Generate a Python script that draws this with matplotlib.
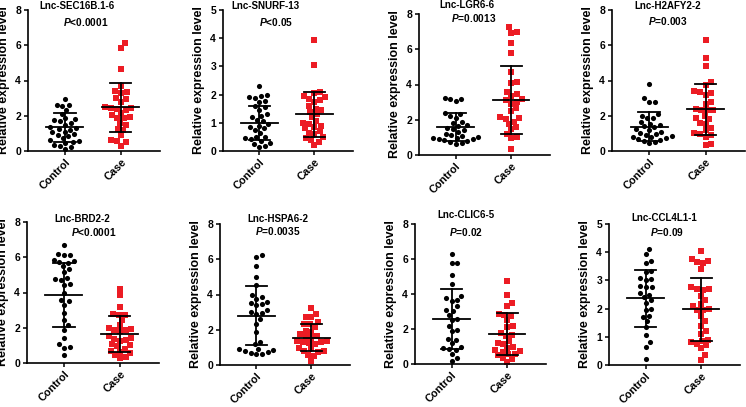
import numpy as np
import matplotlib.pyplot as plt

plt.rcParams['font.family'] = 'Liberation Sans'
plt.rcParams['font.weight'] = 'bold'
plt.rcParams['mathtext.fontset'] = 'custom'
plt.rcParams['mathtext.it'] = 'Liberation Sans:italic:bold'
plt.rcParams['mathtext.rm'] = 'Liberation Sans:bold'

# ---------------- data ----------------
genes = ["Lnc-SEC16B.1-6", "Lnc-SNURF-13", "Lnc-LGR6-6", "Lnc-H2AFY2-2",
         "Lnc-BRD2-2", "Lnc-HSPA6-2", "Lnc-CLIC6-5", "Lnc-CCL4L1-1"]
pvals = ["<0.0001", "<0.05", "=0.0013", "=0.003",
         "<0.0001", "=0.0035", "=0.02", "=0.09"]
ymax = [8, 5, 8, 8, 8, 8, 8, 5]
groups = ["Control", "Case"]

control = [
    [2.95, 2.6, 2.55, 2.6, 2.3, 2.1, 1.85, 1.8, 1.75, 1.7, 1.6, 1.5, 1.35, 1.3, 1.25,
     1.2, 1.1, 1.05, 0.95, 0.9, 0.85, 0.75, 0.6, 0.55, 0.5, 0.45, 0.35, 0.3, 0.2, 0.1],
    [2.32, 1.98, 1.95, 1.9, 1.88, 1.78, 1.75, 1.6, 1.55, 1.45, 1.3, 1.25, 1.2, 1.1, 1.05,
     0.95, 0.9, 0.85, 0.8, 0.75, 0.65, 0.5, 0.48, 0.45, 0.42, 0.35, 0.3, 0.25, 0.18, 0.15],
    [3.25, 3.2, 3.15, 3.05, 2.4, 2.3, 2.2, 2.1, 1.9, 1.8, 1.7, 1.65, 1.55, 1.45, 1.4,
     1.3, 1.2, 1.12, 1.05, 1.0, 0.98, 0.95, 0.93, 0.88, 0.83, 0.78, 0.73, 0.68, 0.65],
    [3.78, 3.0, 2.8, 2.8, 2.1, 2.0, 1.9, 1.85, 1.65, 1.55, 1.45, 1.4, 1.35, 1.25, 1.2,
     1.1, 1.0, 0.95, 0.92, 0.85, 0.8, 0.77, 0.73, 0.68, 0.63, 0.58, 0.5, 0.45],
    [6.72, 6.2, 6.15, 6.1, 5.85, 5.8, 5.75, 5.7, 5.5, 5.35, 5.15, 4.8, 4.75, 4.7, 4.5,
     4.4, 4.0, 3.6, 3.5, 3.3, 2.85, 2.45, 2.15, 1.9, 1.4, 1.05, 0.9, 0.85, 0.45],
    [6.25, 6.15, 5.6, 5.0, 4.55, 3.95, 3.85, 3.75, 3.6, 3.5, 3.45, 3.4, 3.1, 3.0, 2.95,
     2.9, 2.6, 2.35, 1.85, 1.3, 1.2, 0.92, 0.9, 0.85, 0.8, 0.75, 0.7, 0.64, 0.6],
    [6.3, 5.8, 5.75, 5.1, 4.55, 3.9, 3.75, 3.65, 3.6, 3.3, 3.1, 3.05, 2.8, 2.55, 2.5,
     2.2, 1.95, 1.9, 1.45, 1.4, 1.2, 0.95, 0.9, 0.85, 0.8, 0.55, 0.35, 0.2],
    [4.12, 3.95, 3.7, 3.6, 3.35, 3.3, 3.1, 3.05, 3.0, 2.8, 2.75, 2.75, 2.55, 2.5, 2.4,
     2.3, 2.2, 2.0, 1.95, 1.75, 1.7, 1.55, 1.35, 1.05, 0.8, 0.65, 0.22],
]

case = [
    [6.1, 5.85, 4.65, 3.7, 3.4, 3.35, 3.3, 3.0, 2.95, 2.8, 2.5, 2.45, 2.45, 2.4, 2.35,
     2.15, 2.05, 1.95, 1.85, 1.85, 1.6, 1.5, 1.25, 1.2, 0.9, 0.6, 0.55, 0.5, 0.3],
    [3.93, 3.05, 2.1, 2.05, 1.95, 1.9, 1.85, 1.8, 1.75, 1.6, 1.5, 1.45, 1.4, 1.3, 1.2,
     1.05, 1.0, 0.95, 0.9, 0.85, 0.8, 0.7, 0.65, 0.6, 0.5, 0.45, 0.38, 0.33, 0.2],
    [7.25, 7.0, 6.95, 6.35, 5.8, 4.7, 4.15, 4.1, 3.6, 3.45, 3.35, 3.2, 3.1, 3.0, 2.9,
     2.65, 2.5, 2.15, 2.1, 2.05, 1.9, 1.75, 1.6, 1.45, 1.2, 1.0, 0.95, 0.35],
    [6.28, 5.3, 4.8, 3.9, 3.75, 3.4, 3.35, 3.3, 3.2, 2.8, 2.65, 2.4, 2.35, 2.3, 2.3,
     2.0, 1.85, 1.8, 1.6, 1.55, 1.3, 1.2, 1.0, 0.95, 0.9, 0.8, 0.4, 0.35],
    [4.2, 3.85, 3.2, 2.8, 2.75, 2.7, 2.45, 2.15, 2.0, 1.95, 1.9, 1.85, 1.8, 1.55, 1.4,
     1.35, 1.3, 1.25, 1.05, 1.0, 0.95, 0.8, 0.7, 0.65, 0.55, 0.45, 0.35, 0.3],
    [3.25, 2.9, 2.75, 2.7, 2.45, 2.35, 2.3, 2.15, 1.95, 1.9, 1.75, 1.65, 1.6, 1.55, 1.35,
     1.35, 1.3, 1.3, 1.25, 1.2, 0.95, 0.95, 0.8, 0.8, 0.75, 0.55, 0.5, 0.2],
    [4.75, 3.95, 3.5, 3.3, 2.85, 2.8, 2.75, 2.5, 2.15, 2.1, 1.75, 1.65, 1.6, 1.3, 1.2,
     1.15, 0.95, 0.9, 0.8, 0.75, 0.7, 0.6, 0.55, 0.5, 0.35, 0.3, 0.1],
    [4.05, 3.75, 3.7, 3.65, 3.6, 3.4, 2.75, 2.7, 2.7, 2.65, 2.45, 2.3, 2.15, 2.1, 2.0,
     1.95, 1.95, 1.75, 1.55, 1.4, 1.2, 1.1, 0.9, 0.85, 0.8, 0.75, 0.7, 0.6, 0.35, 0.18],
]

# mean +/- SD as shown in the figure
ctrl_mean = [1.34, 1.0, 1.61, 1.38, 3.84, 2.79, 2.59, 2.36]
ctrl_sd = [0.81, 0.61, 0.79, 0.83, 1.82, 1.67, 1.72, 1.02]
case_mean = [2.48, 1.3, 3.12, 2.36, 1.64, 1.56, 1.73, 1.97]
case_sd = [1.4, 0.8, 1.95, 1.46, 1.03, 0.79, 1.19, 1.11]

# ---------------- layout (pixels) ----------------
W, H = 746, 407
# left, top, width, height of each axes box
boxes = [(28, 10, 132, 141), (223, 10, 130, 141), (419, 14, 131, 141), (612, 10, 133, 141),
         (27, 222, 132, 141), (220, 224, 130, 141), (415, 224, 131, 140), (609, 224, 131, 141)]
title_xy = [(77, 6), (265, 6), (467, 5), (668, 6), (82, 219), (278, 219), (466, 215), (664, 218)]
p_xy = [(86, 22), (276, 22), (474, 18), (668, 21), (94, 232), (278, 231), (466, 232), (667, 232)]

RED = '#ec1c24'
XL = (-0.66, 1.70)


def swarm(vals, ypx, d):
    # simple beeswarm: returns x offsets in pixels
    order = np.argsort(vals)
    placed = []
    xs = np.zeros(len(vals))
    for i in order:
        y = vals[i] * ypx
        cands = [0.0]
        for px, py in placed:
            dy = y - py
            if abs(dy) < d:
                dx = np.sqrt(d * d - dy * dy)
                cands += [px + dx, px - dx]
        cands.sort(key=abs)
        for c in cands:
            if all((c - px) ** 2 + (y - py) ** 2 >= d * d - 1e-6 for px, py in placed):
                xs[i] = c
                break
        placed.append((xs[i], y))
    return xs


fig = plt.figure(figsize=(W / 100, H / 100), dpi=100)

for k in range(8):
    l, t, w, h = boxes[k]
    ax = fig.add_axes([l / W, 1 - (t + h) / H, w / W, h / H])
    xpx = w / (XL[1] - XL[0])
    ypx = h / ymax[k]

    for j, (vals, mk, col, ms) in enumerate([(control[k], 'o', 'black', 3.7),
                                             (case[k], 's', RED, 3.8)]):
        v = np.array(vals)
        off = swarm(v, ypx, 5.9) / xpx
        ax.plot(j + off, v, linestyle='none', marker=mk, color=col,
                markersize=ms, markeredgewidth=0, clip_on=False, zorder=2)

    for j, (m, s) in enumerate([(ctrl_mean[k], ctrl_sd[k]), (case_mean[k], case_sd[k])]):
        ax.plot([j - 0.33, j + 0.33], [m, m], color='black', lw=1.3, zorder=3)
        ax.plot([j, j], [m - s, m + s], color='black', lw=1.3, zorder=3)
        for e in (m - s, m + s):
            ax.plot([j - 0.19, j + 0.19], [e, e], color='black', lw=1.3, zorder=3)

    ax.set_xlim(*XL)
    ax.set_ylim(0, ymax[k])
    step = 2 if ymax[k] == 8 else 1
    ax.set_yticks(range(0, ymax[k] + 1, step))
    ax.set_xticks([0, 1])
    ax.set_xticklabels(groups, rotation=45, ha='right', va='top',
                       rotation_mode='anchor', fontsize=7.8, fontweight='bold')
    for lab in ax.get_yticklabels():
        lab.set_fontsize(7.5)
        lab.set_fontweight('bold')
    ax.tick_params(direction='out', length=3, width=1.1, pad=2)
    ax.tick_params(axis='x', pad=1.5)
    ax.spines['top'].set_visible(False)
    ax.spines['right'].set_visible(False)
    ax.spines['left'].set_linewidth(1.2)
    ax.spines['bottom'].set_linewidth(1.2)
    ax.set_ylabel("Relative expression level", fontsize=8.9, fontweight='bold')
    ax.yaxis.set_label_coords(-18 / w, 0.5)

    tx, ty = title_xy[k]
    fig.text(tx / W, 1 - ty / H, genes[k], ha='center', va='center',
             fontsize=7, fontweight='bold')
    px, py = p_xy[k]
    fig.text(px / W, 1 - py / H, r'$\mathit{P}$' + pvals[k], ha='center', va='center',
             fontsize=7.3, fontweight='bold')

fig.savefig("out.png", dpi=100)
